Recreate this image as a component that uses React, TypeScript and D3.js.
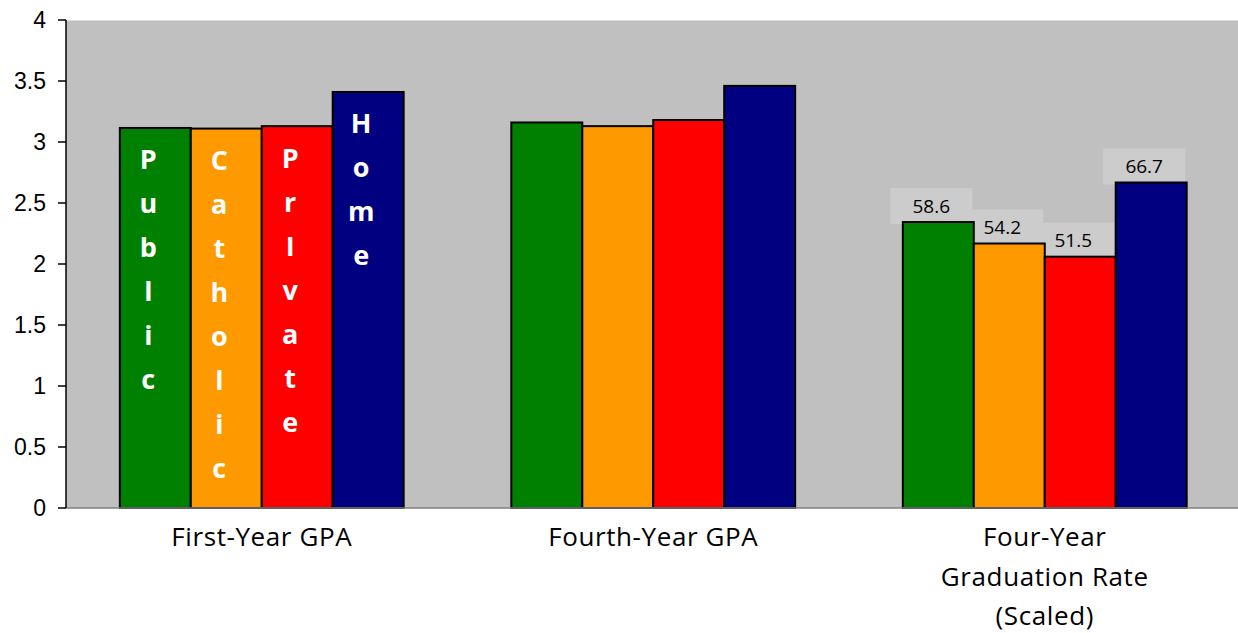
import * as d3 from 'd3';

const categories = ['First-Year GPA', 'Fourth-Year GPA', 'Four-Year|Graduation Rate|(Scaled)'];
const seriesNames = ['Public', 'Catholic', 'PrIvate', 'Home'];
const seriesColors = ['#008000', '#ff9900', '#ff0000', '#000080'];

// GPA values
const firstYearGpa = [3.115, 3.11, 3.13, 3.41];
const fourthYearGpa = [3.16, 3.13, 3.18, 3.46];
// graduation rates in percent, drawn divided by 25
const gradRates = [58.6, 54.2, 51.5, 66.7];
const gradScale = 25;

const yTicks = [0, 0.5, 1, 1.5, 2, 2.5, 3, 3.5, 4];

const W = 1238;
const H = 633;
const plot = { left: 66, right: 1240.5, top: 20, bottom: 508 };

export default function App() {
  const x0 = d3
    .scaleBand<string>()
    .domain(categories)
    .range([plot.left, plot.right])
    .paddingInner(0.275)
    .paddingOuter(0.1375);
  const x1 = d3.scaleBand<string>().domain(seriesNames).range([0, x0.bandwidth()]);
  const y = d3.scaleLinear().domain([0, 4]).range([plot.bottom, plot.top]);

  const values: number[][] = [
    firstYearGpa,
    fourthYearGpa,
    gradRates.map((r) => r / gradScale),
  ];

  return (
    <svg
      width={W}
      height={H}
      style={{ position: 'absolute', left: 0, top: 0, background: '#fff' }}
    >
      <rect
        x={plot.left}
        y={plot.top}
        width={W - plot.left}
        height={plot.bottom - plot.top}
        fill="#c0c0c0"
      />
      <line x1={plot.left} x2={W} y1={plot.top + 0.5} y2={plot.top + 0.5} stroke="#dcdcdc" />

      {/* data label boxes (behind bars) */}
      {gradRates.map((r, i) => {
        const cx = (x0(categories[2]) ?? 0) + (x1(seriesNames[i]) ?? 0) + x1.bandwidth() / 2 - 7;
        const top = y(r / gradScale);
        return (
          <rect
            key={'box' + i}
            x={cx - 41}
            y={top - 34}
            width={82}
            height={36}
            fill="#cccccc"
          />
        );
      })}

      {categories.map((c, ci) =>
        seriesNames.map((s, si) => {
          const v = values[ci][si];
          const bx = (x0(c) ?? 0) + (x1(s) ?? 0);
          return (
            <rect
              key={c + s}
              x={bx}
              y={y(v)}
              width={x1.bandwidth()}
              height={plot.bottom - y(v)}
              fill={seriesColors[si]}
              stroke="#000"
              strokeWidth={2}
            />
          );
        }),
      )}

      {/* vertical series names inside first group */}
      {seriesNames.map((s, si) => {
        const cx = (x0(categories[0]) ?? 0) + (x1(s) ?? 0) + x1.bandwidth() / 2 - 7;
        const top = y(firstYearGpa[si]);
        return (
          <g key={'lab' + s}>
            {s.split('').map((ch, k) => (
              <text
                key={k}
                x={cx}
                y={top + 32 + k * 44}
                dy="0.35em"
                textAnchor="middle"
                fill="#fff"
                fontFamily="'Open Sans', sans-serif"
                fontWeight={700}
                fontSize={27}
              >
                {ch}
              </text>
            ))}
          </g>
        );
      })}

      {/* graduation data labels */}
      {gradRates.map((r, i) => {
        const cx = (x0(categories[2]) ?? 0) + (x1(seriesNames[i]) ?? 0) + x1.bandwidth() / 2 - 7;
        const top = y(r / gradScale);
        return (
          <text
            key={'dl' + i}
            x={cx}
            y={top - 16}
            dy="0.35em"
            textAnchor="middle"
            fill="#000"
            fontFamily="'Open Sans', sans-serif"
            fontSize={19}
          >
            {r.toFixed(1)}
          </text>
        );
      })}

      {/* axes */}
      <line x1={plot.left} x2={W} y1={plot.bottom} y2={plot.bottom} stroke="#808080" strokeWidth={1.5} />
      <line x1={plot.left} x2={plot.left} y1={plot.top} y2={plot.bottom} stroke="#000" strokeWidth={1.5} />
      {yTicks.map((t) => (
        <g key={'t' + t}>
          <line x1={plot.left - 8} x2={plot.left} y1={y(t)} y2={y(t)} stroke="#000" strokeWidth={1.5} />
          <text
            x={46}
            y={y(t)}
            dy="0.36em"
            textAnchor="end"
            fontFamily="'Liberation Sans', Arial, sans-serif"
            fontSize={23}
            fill="#000"
          >
            {t}
          </text>
        </g>
      ))}

      {categories.map((c) => {
        const cx = (x0(c) ?? 0) + x0.bandwidth() / 2;
        return (
          <text
            key={'cat' + c}
            textAnchor="middle"
            fontFamily="'Open Sans', sans-serif"
            fontSize={26}
            letterSpacing={0.6}
            fill="#000"
          >
            {c.split('|').map((line, li) => (
              <tspan key={li} x={cx} y={546 + li * 39.5}>
                {line}
              </tspan>
            ))}
          </text>
        );
      })}
    </svg>
  );
}
